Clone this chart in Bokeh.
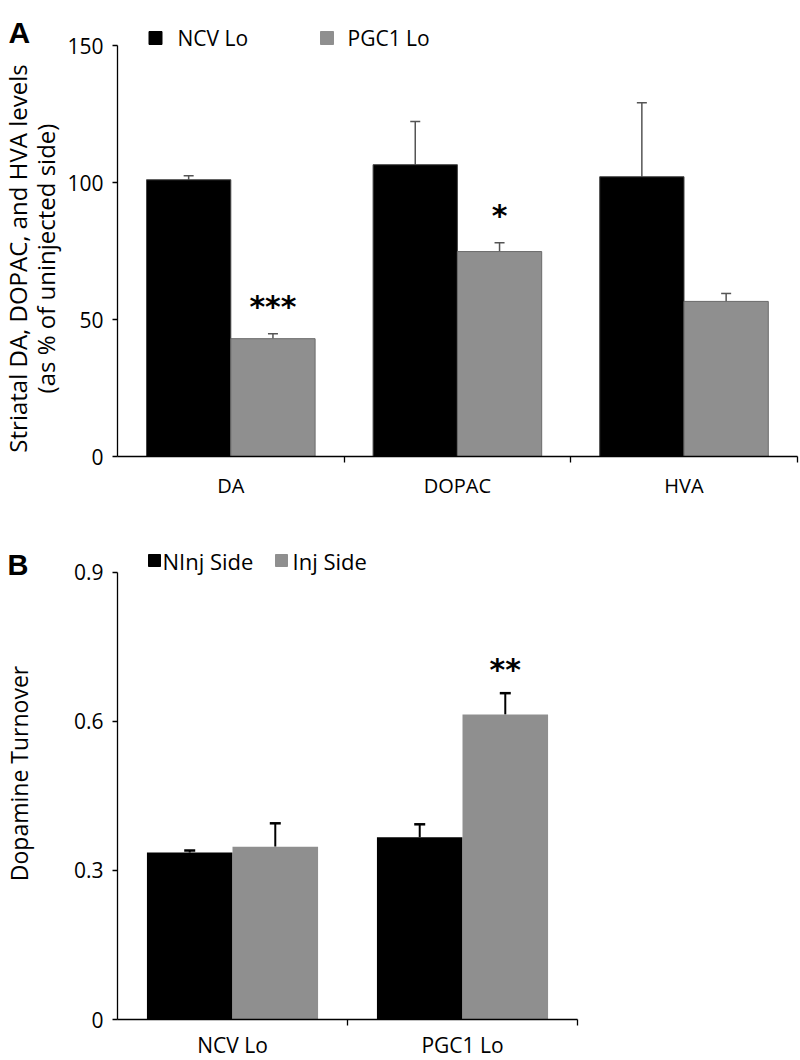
import numpy as np
from bokeh.plotting import figure
from bokeh.models import ColumnDataSource, FixedTicker, Whisker, TeeHead, Label, Range1d
from bokeh.layouts import column
from bokeh.embed import file_html
from bokeh.resources import INLINE
from bokeh.core.properties import value

# ---------------- Panel A data ----------------
a_categories = ["DA", "DOPAC", "HVA"]
a_series = ["NCV Lo", "PGC1 Lo"]
a_ncv = [101.0, 106.5, 102.1]
a_ncv_err = [1.5, 15.8, 27.0]
a_pgc = [43.0, 74.8, 56.6]
a_pgc_err = [1.8, 3.2, 2.9]
a_pgc_sig = ["***", "*", ""]
a_yticks = [0, 50, 100, 150]
a_ylabels = ["0", "50", "100", "150"]

# ---------------- Panel B data ----------------
b_categories = ["NCV Lo", "PGC1 Lo"]
b_series = ["NInj Side", "Inj Side"]
b_ninj = [0.336, 0.367]
b_ninj_err = [0.004, 0.026]
b_inj = [0.348, 0.614]
b_inj_err = [0.047, 0.043]
b_inj_sig = ["", "**"]
b_yticks = [0, 0.3, 0.6, 0.9]
b_ylabels = ["0", "0.3", "0.6", "0.9"]

BLACK = "#000000"
GREY = "#8f8f8f"
FONT = "Open Sans"
BAR_W = 0.372
OFF = BAR_W / 2
PAGE_L, PAGE_R = 0, 800


class Mapper:
    """page pixel <-> data helpers for a figure whose frame covers the whole canvas"""
    def __init__(self, x0px, y0px, pxx, pxy, top, bottom):
        self.x0px, self.y0px, self.pxx, self.pxy = x0px, y0px, pxx, pxy
        self.top, self.bottom = top, bottom

    def x(self, px):
        return (px - self.x0px) / self.pxx

    def y(self, py):
        return (self.y0px - py) / self.pxy

    def figure(self):
        return figure(frame_width=PAGE_R - PAGE_L, frame_height=self.bottom - self.top,
                      x_range=Range1d(self.x(PAGE_L), self.x(PAGE_R)),
                      y_range=Range1d(self.y(self.bottom), self.y(self.top)),
                      output_backend="svg", toolbar_location=None,
                      min_border_left=0, min_border_right=0, min_border_top=0, min_border_bottom=0)


def style_axes(p, ncat, cats, yticks, ylabels, ytop, xfs, yfs, standoff):
    p.xgrid.visible = False
    p.ygrid.visible = False
    p.outline_line_color = None
    centers = [float(i + 0.5) for i in range(ncat)]
    bounds = [float(i + 1) for i in range(ncat)]
    xa = p.xaxis[0]
    xa.fixed_location = 0
    xa.bounds = (0, ncat)
    xa.ticker = FixedTicker(ticks=centers, minor_ticks=bounds)
    xa.major_label_overrides = dict(zip(centers, cats))
    xa.major_tick_in = 0
    xa.major_tick_out = 0
    xa.minor_tick_in = 0
    xa.minor_tick_out = 6
    xa.minor_tick_line_color = "black"
    xa.minor_tick_line_width = 1.3
    xa.axis_line_color = "black"
    xa.axis_line_width = 1.3
    xa.major_label_text_font = FONT
    xa.major_label_text_font_size = xfs
    xa.major_label_text_color = "black"
    xa.major_label_standoff = standoff
    ya = p.yaxis[0]
    ya.fixed_location = 0
    ya.ticker = FixedTicker(ticks=[float(t) for t in yticks], minor_ticks=[])
    ya.major_label_overrides = dict(zip([float(t) for t in yticks], ylabels))
    ya.bounds = (0, ytop)
    ya.major_tick_in = 0
    ya.major_tick_out = 5
    ya.major_tick_line_color = "black"
    ya.major_tick_line_width = 1.3
    ya.minor_tick_out = 0
    ya.minor_tick_in = 0
    ya.axis_line_color = "black"
    ya.axis_line_width = 1.3
    ya.major_label_text_font = FONT
    ya.major_label_text_font_size = yfs
    ya.major_label_text_color = "black"
    ya.major_label_standoff = 9


def label(p, x, y, text, size, angle=0.0, font=FONT, style="normal", align="center", baseline="middle"):
    p.add_layout(Label(x=x, y=y, text=text, angle=angle, text_align=align, text_baseline=baseline,
                       text_font=font, text_font_style=style, text_font_size=size, text_color="black"))


# ================= Panel A =================
mA = Mapper(x0px=117, y0px=456, pxx=226.6, pxy=2.74, top=0, bottom=502)
xa = np.arange(len(a_categories)) + 0.5
srcA1 = ColumnDataSource(dict(x=xa - OFF, top=a_ncv, upper=np.add(a_ncv, a_ncv_err)))
srcA2 = ColumnDataSource(dict(x=xa + OFF, top=a_pgc, upper=np.add(a_pgc, a_pgc_err), sig=a_pgc_sig))

pa = mA.figure()
pa.vbar(x="x", top="top", bottom=0, width=BAR_W, source=srcA1, fill_color=BLACK, line_color="#444444", line_width=1)
pa.vbar(x="x", top="top", bottom=0, width=BAR_W, source=srcA2, fill_color=GREY, line_color="#6a6a6a", line_width=1)
for s in (srcA1, srcA2):
    pa.add_layout(Whisker(base="x", lower="top", upper="upper", source=s, dimension="height",
                          line_color="#555555", line_width=1.5, lower_head=None,
                          upper_head=TeeHead(size=10, line_color="#555555", line_width=1.5)))
pa.text(x="x", y="upper", text="sig", source=srcA2, text_font=value("DejaVu Sans"), text_font_style="bold",
        text_font_size=value("30px"), text_align="center", text_baseline="alphabetic", y_offset=-27,
        text_color="black")

pa.scatter(x=[mA.x(155), mA.x(326.5)], y=[mA.y(37.5)] * 2, marker="square", size=13,
           fill_color=[BLACK, GREY], line_color=[BLACK, GREY])
pa.text(x=[mA.x(177), mA.x(347)], y=[mA.y(37)] * 2, text=a_series, text_font=value(FONT),
        text_font_size=value("21px"), text_align="left", text_baseline="middle", text_color="black")

style_axes(pa, len(a_categories), a_categories, a_yticks, a_ylabels, 150, "20px", "21px", 9)

label(pa, mA.x(17), mA.y(258), "Striatal DA, DOPAC, and HVA levels", "24px", angle=np.pi / 2)
label(pa, mA.x(45), mA.y(258), "(as % of uninjected side)", "24px", angle=np.pi / 2)
label(pa, mA.x(8), mA.y(32), "A", "30px", font="Liberation Sans", style="bold", align="left", baseline="alphabetic")

# ================= Panel B =================
mB = Mapper(x0px=117, y0px=1019, pxx=230.0, pxy=496.7, top=502, bottom=1060)
xb = np.arange(len(b_categories)) + 0.5
srcB1 = ColumnDataSource(dict(x=xb - OFF, top=b_ninj, upper=np.add(b_ninj, b_ninj_err)))
srcB2 = ColumnDataSource(dict(x=xb + OFF, top=b_inj, upper=np.add(b_inj, b_inj_err), sig=b_inj_sig))

pb = mB.figure()
pb.vbar(x="x", top="top", bottom=0, width=BAR_W, source=srcB1, fill_color=BLACK, line_color=None)
pb.vbar(x="x", top="top", bottom=0, width=BAR_W, source=srcB2, fill_color=GREY, line_color=None)
for s in (srcB1, srcB2):
    pb.add_layout(Whisker(base="x", lower="top", upper="upper", source=s, dimension="height",
                          line_color="black", line_width=2, lower_head=None,
                          upper_head=TeeHead(size=11, line_color="black", line_width=2.5)))
pb.text(x="x", y="upper", text="sig", source=srcB2, text_font=value("DejaVu Sans"), text_font_style="bold",
        text_font_size=value("30px"), text_align="center", text_baseline="alphabetic", y_offset=-24,
        text_color="black")

pb.scatter(x=[mB.x(154), mB.x(281)], y=[mB.y(560)] * 2, marker="square", size=12,
           fill_color=[BLACK, GREY], line_color=[BLACK, GREY])
pb.text(x=[mB.x(162), mB.x(292)], y=[mB.y(560)] * 2, text=b_series, text_font=value(FONT),
        text_font_size=value("22px"), text_align="left", text_baseline="middle", text_color="black")

style_axes(pb, len(b_categories), b_categories, b_yticks, b_ylabels, 0.9, "21px", "21px", 5)

label(pb, mB.x(18), mB.y(773), "Dopamine Turnover", "23px", angle=np.pi / 2)
label(pb, mB.x(7), mB.y(564), "B", "29px", font="Liberation Sans", style="bold", align="left", baseline="alphabetic")

layout = column(pa, pb, spacing=0)
open("out.html", "w").write(file_html(layout, INLINE))
